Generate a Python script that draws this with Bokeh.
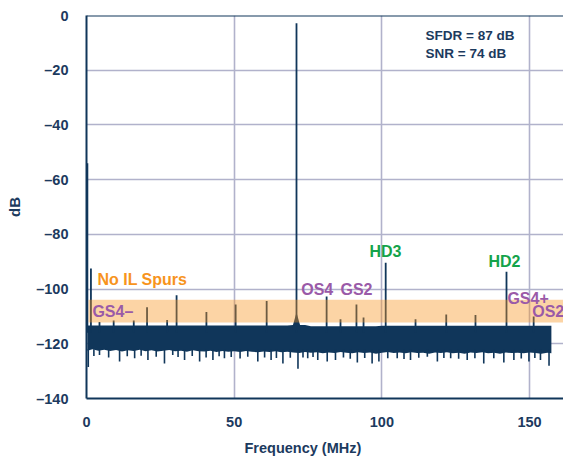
from bokeh.plotting import figure
from bokeh.models import Range1d, FixedTicker, Span, Title
from bokeh.core.properties import value
from bokeh.embed import file_html
from bokeh.resources import INLINE

# ---------------- data ----------------
x_ticks = [0, 50, 100, 150]
y_ticks = [-140, -120, -100, -80, -60, -40, -20, 0]
y_tick_labels = ["–140", "–120", "–100", "–80", "–60", "–40", "–20", "0"]

# noise floor envelope (MHz, dB)
noise_f = [0.3, 2, 4, 6, 8, 10, 12, 14, 16, 18, 20, 22, 24, 26, 28, 30, 32, 34, 36, 38,
           40, 42, 44, 46, 48, 50, 52, 54, 56, 58, 60, 62, 64, 66, 68, 70, 72, 74, 76, 78,
           80, 82, 84, 86, 88, 90, 92, 94, 96, 98, 100, 102, 104, 106, 108, 110, 112, 114,
           116, 118, 120, 122, 124, 126, 128, 130, 132, 134, 136, 138, 140, 142, 144, 146,
           148, 150, 152, 154, 156, 157.4]
noise_lo = [-122.5, -122.0, -122.5, -122.2, -122.6, -122.3, -122.8, -122.4, -122.6, -122.2,
            -122.7, -122.4, -122.8, -122.5, -122.3, -122.7, -122.5, -122.9, -122.4, -122.7,
            -122.8, -122.5, -123.0, -122.6, -122.9, -122.7, -123.0, -122.6, -122.9, -123.1,
            -122.8, -123.0, -122.7, -123.1, -122.9, -123.2, -123.4, -123.0, -123.3, -123.1,
            -123.5, -123.2, -123.4, -123.0, -123.3, -123.5, -123.1, -123.4, -123.2, -123.6,
            -123.3, -123.0, -123.4, -123.2, -123.5, -123.1, -123.4, -123.3, -123.6, -123.2,
            -123.4, -123.1, -123.5, -123.3, -123.6, -123.2, -123.4, -123.1, -123.5, -123.3,
            -123.6, -123.2, -123.4, -123.3, -123.5, -123.2, -123.4, -123.6, -123.3, -123.5]
noise_hi = [-113.3] * 35 + [-113.1] * 3 + [-113.6] * 12 + [-113.4] * 30

# downward noise dips
dip_f = [0.6, 2.5, 4.4, 7.5, 11.2, 13.8, 16.3, 18.5, 20.8, 23.6, 26.4, 29.2, 31.0, 33.2,
         35.8, 38.3, 40.5, 42.8, 44.9, 46.7, 49.0, 52.0, 54.6, 58.0, 60.3, 62.5, 64.3,
         66.5, 69.0, 71.6, 73.3, 74.9, 76.7, 78.3, 81.5, 84.3, 87.0, 89.3, 91.7, 94.2,
         96.7, 99.0, 102.0, 105.2, 107.5, 109.7, 112.5, 115.4, 118.8, 121.0, 123.3, 126.0,
         128.9, 131.5, 134.5, 137.9, 141.3, 144.7, 147.2, 149.8, 151.8, 153.7, 156.6]
dip_db = [-128.5, -124.5, -124.1, -125.0, -126.5, -124.6, -125.3, -124.4, -125.9, -124.7,
          -127.2, -124.1, -124.8, -125.9, -124.5, -126.5, -125.0, -125.9, -124.6, -125.3,
          -124.8, -125.4, -124.7, -126.5, -125.0, -125.9, -125.2, -127.2, -125.1, -129.1,
          -125.0, -125.3, -124.8, -125.9, -126.5, -125.9, -125.0, -125.5, -126.8, -125.2,
          -127.2, -126.5, -125.3, -125.3, -125.6, -125.9, -125.1, -124.7, -126.5, -125.2,
          -125.3, -125.5, -125.9, -125.3, -127.2, -125.3, -126.8, -125.9, -125.4, -126.5,
          -125.2, -125.9, -128.0]

# spectral lines (fundamental, harmonics, spurs)
spur_f = [0.3, 1.5, 4.4, 9.2, 16.0, 20.5, 27.3, 30.5, 40.6, 50.5, 61.0, 71.1,
          81.3, 86.0, 91.4, 93.8, 101.3, 111.4, 121.8, 131.7, 142.2, 151.4]
spur_db = [-54, -92.5, -112, -111.5, -111.5, -106.6, -111.3, -102.3, -108.4, -105.6,
           -104.4, -2.8, -102.7, -111, -105.6, -110.4, -90.4, -111, -109.3, -109.5,
           -93.7, -110]

# skirt around the fundamental
skirt_f = [69.8, 70.6, 71.1, 71.6, 72.4]
skirt_db = [-113.5, -110.5, -108.5, -110.5, -113.5]

# "No IL Spurs" region
band_f0, band_f1 = 0.7, 170.0
band_top, band_bottom = -103.9, -112.2

# annotations
purple_text = ["GS4–", "OS4", "GS2", "GS4+", "OS2"]
purple_x = [2.0, 72.7, 86.0, 142.5, 150.9]
purple_y = [-108.1, -100.1, -100.1, -103.3, -108.1]
green_text = ["HD3", "HD2"]
green_x = [95.8, 136.1]
green_y = [-86.1, -89.9]

NAVY = "#10365a"
TEXT = "#1c3a5e"
FONT = "Liberation Sans"

p = figure(width=563, height=464, output_backend="svg", toolbar_location=None,
           x_range=Range1d(0, 161.5), y_range=Range1d(-140, 0),
           min_border_left=86, min_border_right=0, min_border_top=15,
           min_border_bottom=66)
p.outline_line_color = None
p.background_fill_color = "white"
p.border_fill_color = "white"

# grid
p.xgrid.ticker = FixedTicker(ticks=x_ticks)
p.ygrid.ticker = FixedTicker(ticks=y_ticks)
for g in (p.xgrid, p.ygrid):
    g.grid_line_color = "#b1b2cb"
    g.grid_line_width = 1.6

# axes
p.xaxis.ticker = FixedTicker(ticks=x_ticks)
p.yaxis.ticker = FixedTicker(ticks=y_ticks)
p.yaxis.major_label_overrides = {t: l for t, l in zip(y_ticks, y_tick_labels)}
for ax in (p.xaxis[0], p.yaxis[0]):
    ax.axis_line_color = NAVY
    ax.axis_line_width = 2
    ax.major_tick_line_color = None
    ax.minor_tick_line_color = None
    ax.major_label_text_font = FONT
    ax.major_label_text_font_style = "bold"
    ax.major_label_text_font_size = "14.5px"
    ax.major_label_text_color = TEXT
    ax.major_label_standoff = 12
p.yaxis.axis_label = "dB"
p.yaxis.axis_label_text_font = FONT
p.yaxis.axis_label_text_font_style = "bold"
p.yaxis.axis_label_text_font_size = "15px"
p.yaxis.axis_label_text_color = TEXT
p.yaxis.axis_label_standoff = 10

# x axis title (offset to match the reference position)
p.add_layout(Title(text="Frequency (MHz)", align="left", offset=158,
                   text_font=FONT, text_font_style="bold", text_font_size="14.5px",
                   text_color=TEXT, standoff=17), "below")

# top frame line
p.add_layout(Span(location=0, dimension="width", line_color=NAVY, line_width=2))

# spectrum
p.varea(x=noise_f, y1=noise_lo, y2=noise_hi, fill_color=NAVY)
p.segment(x0=dip_f, y0=[-122.0] * len(dip_f), x1=dip_f, y1=dip_db,
          line_color=NAVY, line_width=1.6)
p.segment(x0=spur_f, y0=[-116.0] * len(spur_f), x1=spur_f, y1=spur_db,
          line_color=NAVY, line_width=1.8)
p.varea(x=skirt_f, y1=[-115.0] * len(skirt_f), y2=skirt_db, fill_color=NAVY)

# No IL spurs band
p.quad(left=[band_f0], right=[band_f1], top=[band_top], bottom=[band_bottom],
       fill_color="#f7941d", fill_alpha=0.4, line_color=None)

# labels
p.text(x=[3.7], y=[-96.5], text=["No IL Spurs"], text_color="#f7941d",
       text_font=value(FONT), text_font_style="bold", text_font_size="16px",
       text_align="left", text_baseline="middle")
p.text(x=purple_x, y=purple_y, text=purple_text, text_color="#9a5aa8",
       text_font=value(FONT), text_font_style="bold", text_font_size="16px",
       text_align="left", text_baseline="middle")
p.text(x=green_x, y=green_y, text=green_text, text_color="#14a34a",
       text_font=value(FONT), text_font_style="bold", text_font_size="16px",
       text_align="left", text_baseline="middle")
p.text(x=[114.8, 114.8], y=[-7.3, -14.0], text=["SFDR = 87 dB", "SNR = 74 dB"],
       text_color=TEXT, text_font=value(FONT), text_font_style="bold",
       text_font_size="13.5px", text_align="left", text_baseline="middle")

open("out.html", "w").write(file_html(p, INLINE))
